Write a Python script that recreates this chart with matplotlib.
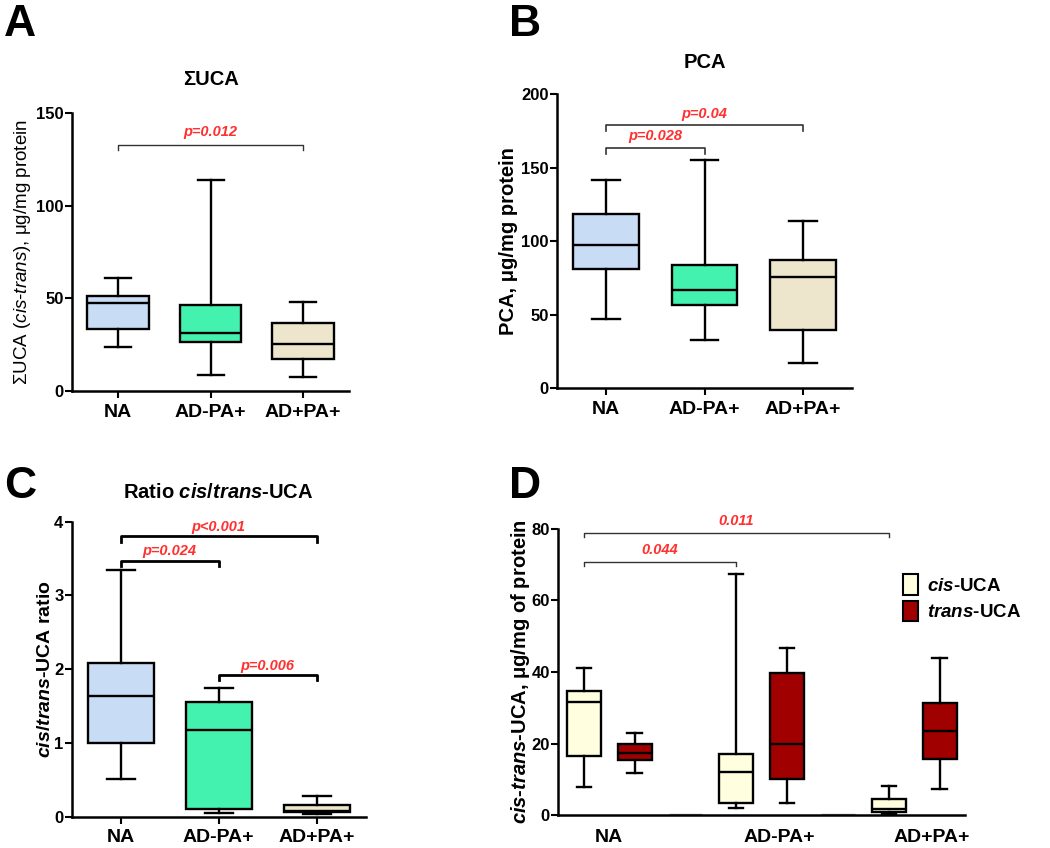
import matplotlib
matplotlib.use("Agg")
import matplotlib.pyplot as plt
from matplotlib.patches import Patch

plt.rcParams['font.family'] = ['Liberation Sans', 'DejaVu Sans']
plt.rcParams['mathtext.fontset'] = 'custom'
plt.rcParams['mathtext.it'] = 'Liberation Sans:bold:italic'
plt.rcParams['mathtext.rm'] = 'Liberation Sans:bold'
plt.rcParams['mathtext.sf'] = 'Liberation Sans:italic'

groups = ['NA', 'AD-PA+', 'AD+PA+']
group_colors = ['#c8dcf6', '#44f2b0', '#ede6cc']

# box stats: whisker low, Q1, median, Q3, whisker high
uca_low = [23.6, 8.6, 7.7]
uca_q1 = [33.3, 26.6, 17.1]
uca_med = [47.7, 31.1, 25.2]
uca_q3 = [51.5, 46.4, 36.9]
uca_high = [61.1, 114.0, 47.9]

pca_low = [47.4, 32.7, 17.2]
pca_q1 = [81.0, 56.7, 39.7]
pca_med = [97.3, 66.9, 75.9]
pca_q3 = [118.4, 83.9, 87.3]
pca_high = [141.7, 155.1, 113.8]

ratio_low = [0.51, 0.05, 0.04]
ratio_q1 = [0.995, 0.11, 0.06]
ratio_med = [1.63, 1.17, 0.08]
ratio_q3 = [2.08, 1.56, 0.16]
ratio_high = [3.35, 1.75, 0.28]

cis_low = [7.9, 1.9, 0.3]
cis_q1 = [16.5, 3.3, 0.9]
cis_med = [31.7, 12.1, 1.6]
cis_q3 = [34.8, 17.0, 4.6]
cis_high = [41.2, 67.4, 8.0]

trans_low = [11.7, 3.45, 7.2]
trans_q1 = [15.4, 10.1, 15.6]
trans_med = [17.3, 19.8, 23.6]
trans_q3 = [19.8, 39.6, 31.4]
trans_high = [23.0, 46.6, 43.8]

# significance brackets: (from, to, height, label)
uca_sig = [(0, 2, 132.8, 'p=0.012')]
pca_sig = [(0, 1, 163.7, 'p=0.028'), (0, 2, 178.9, 'p=0.04')]
ratio_sig = [(0, 1, 3.47, 'p=0.024'), (0, 2, 3.80, 'p<0.001'), (1, 2, 1.92, 'p=0.006')]
d_sig = [(0, 3, 70.7, '0.044'), (0, 6, 78.8, '0.011')]

RED = '#ff3030'


def make_stats(low, q1, med, q3, high):
    return [dict(whislo=a, q1=b, med=c, q3=d, whishi=e, fliers=[])
            for a, b, c, d, e in zip(low, q1, med, q3, high)]


def style_axis(ax, ymax, yticks):
    for s in ['top', 'right']:
        ax.spines[s].set_visible(False)
    for s in ['left', 'bottom']:
        ax.spines[s].set_linewidth(1.8)
    ax.set_ylim(0, ymax)
    ax.set_yticks(yticks)
    ax.tick_params(axis='y', width=1.5, length=5, labelsize=12, pad=1)
    ax.tick_params(axis='x', width=1.5, length=5, labelsize=14, pad=4)
    for lab in ax.get_yticklabels():
        lab.set_fontweight('bold')
    for lab in ax.get_xticklabels():
        lab.set_fontweight('bold')


def draw_boxes(ax, stats, positions, colors, width=0.67):
    bp = ax.bxp(stats, positions=positions, widths=width, patch_artist=True,
                showfliers=False, capwidths=width * 0.42,
                boxprops=dict(linewidth=1.7, edgecolor='black'),
                medianprops=dict(color='black', linewidth=1.7),
                whiskerprops=dict(color='black', linewidth=1.7),
                capprops=dict(color='black', linewidth=1.7))
    for patch, c in zip(bp['boxes'], colors):
        patch.set_facecolor(c)


def draw_sig(ax, sigs, drop, lw, color, offset, size=10.5):
    for a, b, h, lab in sigs:
        ax.plot([a, a, b, b], [h - drop, h, h, h - drop], color=color, lw=lw,
                clip_on=False)
        ax.text((a + b) / 2, h + offset, lab, ha='center', va='bottom',
                color=RED, fontsize=size, fontweight='bold', style='italic')


fig = plt.figure(figsize=(10.5, 8.48), dpi=100)

# Panel A
axA = fig.add_axes([0.0686, 0.5389, 0.2638, 0.3278])
draw_boxes(axA, make_stats(uca_low, uca_q1, uca_med, uca_q3, uca_high),
           [0, 1, 2], group_colors)
axA.set_xlim(-0.5, 2.5)
axA.set_xticks([0, 1, 2], groups)
style_axis(axA, 150, [0, 50, 100, 150])
draw_sig(axA, uca_sig, 2.5, 1.0, '#333333', 3)
axA.set_ylabel('ΣUCA ($\\mathsf{cis}$-$\\mathsf{trans}$), μg/mg protein',
               fontsize=13.5, labelpad=2)
axA.set_title('ΣUCA', fontsize=14.5, fontweight='bold', pad=20)

# Panel B
axB = fig.add_axes([0.5305, 0.5421, 0.281, 0.3467])
draw_boxes(axB, make_stats(pca_low, pca_q1, pca_med, pca_q3, pca_high),
           [0, 1, 2], group_colors)
axB.set_xlim(-0.5, 2.5)
axB.set_xticks([0, 1, 2], groups)
style_axis(axB, 200, [0, 50, 100, 150, 200])
draw_sig(axB, pca_sig, 4, 1.2, '#333333', 3)
axB.set_ylabel('PCA, μg/mg protein', fontsize=14.5, fontweight='bold', labelpad=2)
axB.set_title('PCA', fontsize=14.5, fontweight='bold', pad=19)

# Panel C
axC = fig.add_axes([0.0683, 0.0369, 0.28, 0.348])
draw_boxes(axC, make_stats(ratio_low, ratio_q1, ratio_med, ratio_q3, ratio_high),
           [0, 1, 2], group_colors)
axC.set_xlim(-0.5, 2.5)
axC.set_xticks([0, 1, 2], groups)
style_axis(axC, 4, [0, 1, 2, 3, 4])
draw_sig(axC, ratio_sig, 0.07, 2.0, 'black', 0.03)
axC.set_ylabel('$\\mathit{cis/trans}$-UCA ratio', fontsize=14,
               fontweight='bold', labelpad=0)
axC.set_title('Ratio $\\mathit{cis/trans}$-UCA', fontsize=14.5,
              fontweight='bold', pad=17)

# Panel D
axD = fig.add_axes([0.5317, 0.0389, 0.3873, 0.3373])
cis_pos = [0, 3, 6]
trans_pos = [1, 4, 7]
draw_boxes(axD, make_stats(cis_low, cis_q1, cis_med, cis_q3, cis_high),
           cis_pos, ['#ffffe0'] * 3)
draw_boxes(axD, make_stats(trans_low, trans_q1, trans_med, trans_q3, trans_high),
           trans_pos, ['#a00000'] * 3)
for p in [2, 5]:
    axD.hlines(0.3, p - 0.33, p + 0.33, color='#999999', lw=1.0)
axD.set_xlim(-0.5, 7.5)
axD.set_xticks([0.5, 3.85, 6.85], groups)
style_axis(axD, 80, [0, 20, 40, 60, 80])
axD.tick_params(axis='x', length=0, pad=10)
draw_sig(axD, d_sig, 1.1, 1.0, '#333333', 1.5)
axD.set_ylabel('$\\mathit{cis}$-$\\mathit{trans}$-UCA, μg/mg of protein',
               fontsize=14.5, fontweight='bold', labelpad=0)
handles = [Patch(facecolor='#ffffe0', edgecolor='black', lw=1.5),
           Patch(facecolor='#a00000', edgecolor='black', lw=1.5)]
axD.legend(handles, ['$\\mathit{cis}$-UCA', '$\\mathit{trans}$-UCA'],
           loc='upper left', bbox_to_anchor=(0.805, 0.9), frameon=False,
           handlelength=0.8, handleheight=1.3, handletextpad=0.5,
           labelspacing=0.3, prop=dict(size=13.5, weight='bold'))

for letter, x, y in [('A', 0.004, 0.995), ('B', 0.485, 0.995),
                     ('C', 0.004, 0.45), ('D', 0.485, 0.45)]:
    fig.text(x, y, letter, fontsize=32, fontweight='bold', va='top', ha='left')

fig.savefig('out.png', dpi=100)
